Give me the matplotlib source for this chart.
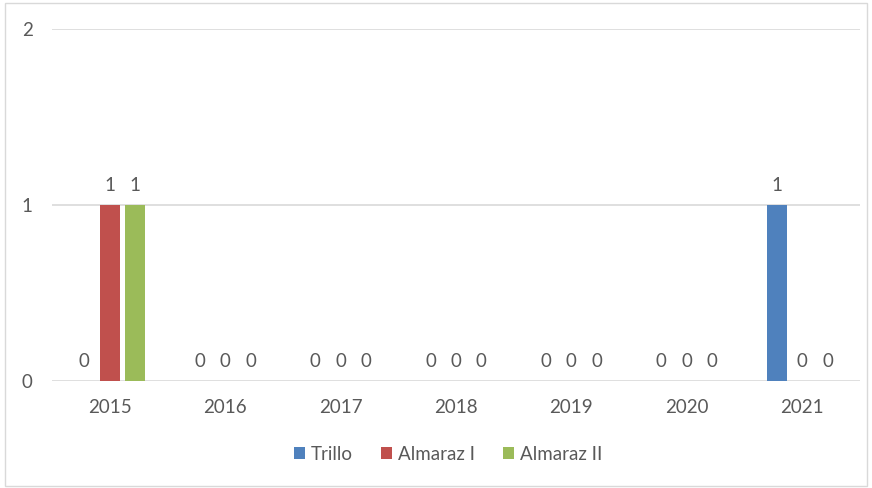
import numpy as np
import matplotlib.pyplot as plt
from matplotlib.patches import Rectangle

years = ['2015', '2016', '2017', '2018', '2019', '2020', '2021']
trillo = [0, 0, 0, 0, 0, 0, 1]
almaraz1 = [1, 0, 0, 0, 0, 0, 0]
almaraz2 = [1, 0, 0, 0, 0, 0, 0]

series = [('Trillo', trillo, '#4f81bd'),
          ('Almaraz I', almaraz1, '#c0504d'),
          ('Almaraz II', almaraz2, '#9bbb59')]

plt.rcParams['font.family'] = ['Lato', 'DejaVu Sans']
txt = '#595959'
fs = 13.5

fig = plt.figure(figsize=(8.72, 4.88), dpi=100)
ax = fig.add_axes([0.0596, 0.219, 0.9266, 0.7216])

# light border round the chart area
fig.patches.append(Rectangle((0.006, 0.004), 0.988, 0.99, transform=fig.transFigure,
                             fill=False, edgecolor='#d9d9d9', linewidth=1))

x = np.arange(len(years))
w = 0.175
step = 0.22
for i, (name, vals, col) in enumerate(series):
    pos = x + (i - 1) * step
    ax.bar(pos, vals, w, color=col, label=name, zorder=3)
    for p, v in zip(pos, vals):
        ax.annotate(str(v), (p, v), xytext=(0, 14), textcoords='offset points',
                    ha='center', va='center', fontsize=fs, color=txt)

ax.set_xlim(-0.5, 6.5)
ax.set_ylim(0, 2)
ax.set_yticks([0, 1, 2])
ax.yaxis.grid(True, color='#d9d9d9', linewidth=1.2, zorder=0)
ax.set_axisbelow(True)
for s in ax.spines.values():
    s.set_visible(False)
ax.tick_params(length=0, labelsize=fs, colors=txt)
ax.tick_params(axis='y', pad=14)
ax.tick_params(axis='x', pad=13)
ax.set_xticks(x)
ax.set_xticklabels(years)

ax.legend(loc='upper center', bbox_to_anchor=(0.49, -0.135), ncol=3, frameon=False,
          fontsize=fs, labelcolor=txt, handlelength=0.6, handleheight=0.6,
          handletextpad=0.3, columnspacing=1.5)

fig.savefig('out.png', dpi=100)
